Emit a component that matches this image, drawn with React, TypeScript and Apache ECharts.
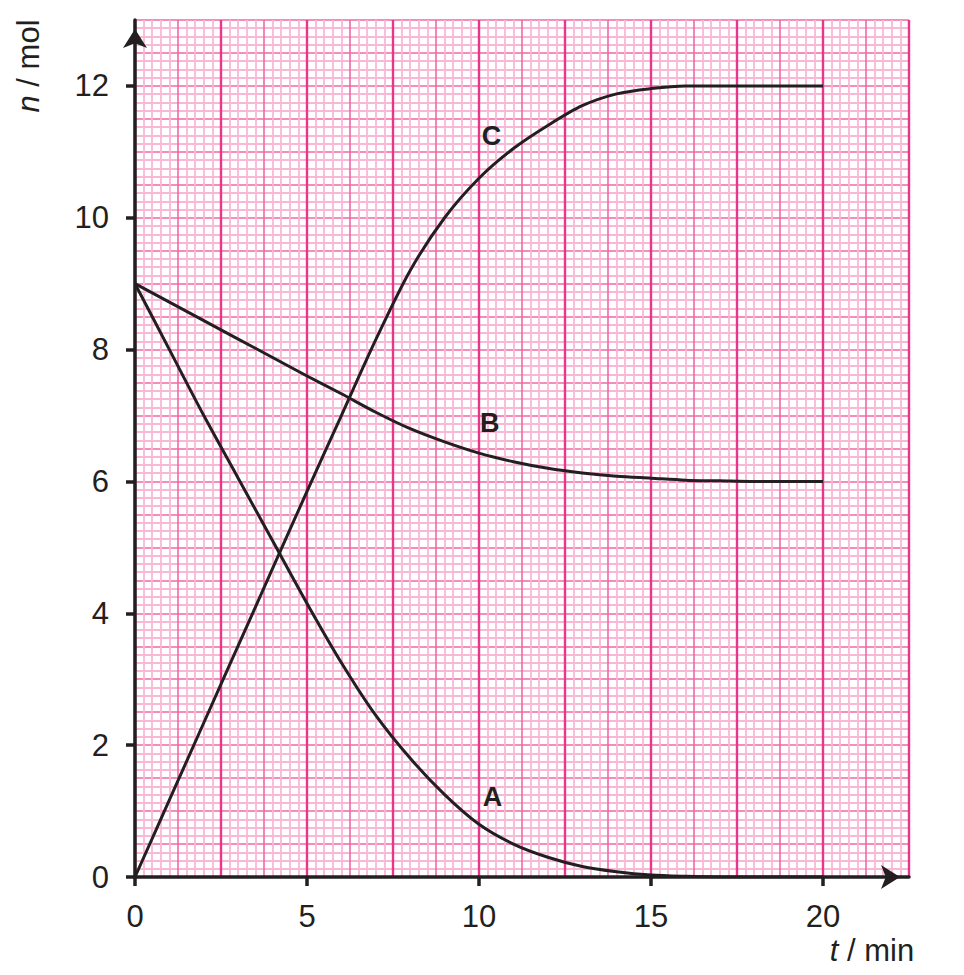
import React, { useEffect, useRef } from "react";
import * as echarts from "echarts";

// time in minutes
const timeMin = [0, 1, 2, 3, 4, 5, 6, 7, 8, 9, 10, 11, 12, 13, 14, 15, 16, 17, 18, 19, 20];
// amount n / mol
const seriesA = [9, 8.0, 7.0, 6.05, 5.1, 4.15, 3.25, 2.45, 1.8, 1.25, 0.8, 0.5, 0.3, 0.16, 0.08, 0.03, 0.01, 0, 0, 0, 0];
const seriesB = [9, 8.72, 8.44, 8.16, 7.88, 7.6, 7.33, 7.05, 6.8, 6.6, 6.43, 6.3, 6.2, 6.13, 6.08, 6.05, 6.02, 6.01, 6.0, 6.0, 6.0];
const seriesC = [0, 1.17, 2.34, 3.51, 4.68, 5.85, 7.0, 8.15, 9.2, 10.0, 10.6, 11.05, 11.4, 11.7, 11.88, 11.96, 12.0, 12.0, 12.0, 12.0, 12.0];

const xTickLabels = [0, 5, 10, 15, 20];
const yTickLabels = [0, 2, 4, 6, 8, 10, 12];

const curveNames = ["A", "B", "C"];
const curveLabelX = [10.39, 10.31, 10.36];
const curveLabelY = [1.21, 6.89, 11.24];

const X_MAX = 22.5;
const Y_MAX = 13;

const INK = "#231f20";
const FONT = "'Liberation Sans', Arial, Helvetica, sans-serif";
const FINE = "#f9b8d6";
const MEDIUM = "#ef67a6";
const THICK = "#e6378b";

function gridAxis(max: number, interval: number, color: string, width: number, minorSplit: number, pos: string) {
  return {
    type: "value",
    min: 0,
    max,
    interval,
    position: pos,
    show: true,
    axisLine: { show: false },
    axisTick: { show: false },
    axisLabel: { show: false },
    minorTick: { show: minorSplit > 0, splitNumber: Math.max(minorSplit, 1), length: 0, lineStyle: { width: 0 } },
    minorSplitLine: { show: minorSplit > 0, lineStyle: { color: FINE, width: 1.8 } },
    splitLine: { show: true, lineStyle: { color, width } },
  };
}

export default function App() {
  const ref = useRef<HTMLDivElement>(null);

  useEffect(() => {
    if (!ref.current) return;
    const chart = echarts.init(ref.current, undefined, { renderer: "svg" });

    const toPairs = (ys: number[]) => timeMin.map((t, i) => [t, ys[i]]);
    const lineSeries = (name: string, ys: number[]) => ({
      type: "line",
      name,
      xAxisIndex: 0,
      yAxisIndex: 0,
      data: toPairs(ys),
      showSymbol: false,
      smooth: 0.3,
      lineStyle: { color: INK, width: 3 },
      z: 4,
    });

    const option: any = {
      animation: false,
      backgroundColor: "#ffffff",
      grid: { left: 135, right: 55, top: 20, bottom: 98, containLabel: false, outerBoundsMode: "none" },
      xAxis: [
        {
          type: "value",
          min: 0,
          max: X_MAX,
          position: "bottom",
          axisLine: {
            show: true,
            onZero: false,
            symbol: ["none", "arrow"],
            symbolSize: [18, 19],
            symbolOffset: [0, -9],
            lineStyle: { color: INK, width: 3.5 },
          },
          axisTick: {
            show: true,
            inside: false,
            length: 9,
            customValues: xTickLabels,
            lineStyle: { color: INK, width: 3.5 },
          },
          axisLabel: {
            customValues: xTickLabels,
            fontSize: 31,
            fontFamily: FONT,
            color: INK,
            margin: 24,
          },
          splitLine: { show: false },
          z: 6,
        },
        gridAxis(X_MAX, 1.25, MEDIUM, 1.6, 5, "bottom"),
        gridAxis(X_MAX, 2.5, THICK, 2.4, 0, "bottom"),
      ],
      yAxis: [
        {
          type: "value",
          min: 0,
          max: Y_MAX,
          position: "left",
          axisLine: {
            show: true,
            onZero: false,
            symbol: ["none", "arrow"],
            symbolSize: [18, 19],
            symbolOffset: [0, -9],
            lineStyle: { color: INK, width: 3.5 },
          },
          axisTick: {
            show: true,
            inside: false,
            length: 9,
            customValues: yTickLabels,
            lineStyle: { color: INK, width: 3.5 },
          },
          axisLabel: {
            customValues: yTickLabels,
            fontSize: 31,
            fontFamily: FONT,
            color: INK,
            margin: 26,
          },
          splitLine: { show: false },
          z: 6,
        },
        gridAxis(Y_MAX, 0.5, MEDIUM, 1.6, 4, "left"),
      ],
      series: [
        lineSeries("A", seriesA),
        lineSeries("B", seriesB),
        lineSeries("C", seriesC),
        {
          type: "scatter",
          xAxisIndex: 0,
          yAxisIndex: 0,
          symbol: "circle",
          symbolSize: 1,
          itemStyle: { color: "#ffffff", opacity: 0 },
          data: curveNames.map((n, i) => ({ name: n, value: [curveLabelX[i], curveLabelY[i]] })),
          label: {
            show: true,
            position: "inside",
            formatter: "{b}",
            fontSize: 27,
            fontWeight: "bold",
            fontFamily: FONT,
            color: INK,
            opacity: 1,
            textBorderWidth: 0,
            textBorderColor: "transparent",
          },
          z: 7,
        },
      ],
      graphic: [
        {
          type: "text",
          x: 28,
          y: 66,
          rotation: Math.PI / 2,
          style: {
            text: "{i|n} / mol",
            rich: { i: { fontStyle: "italic", fontSize: 31, fontFamily: FONT, fill: INK } },
            fontSize: 31,
            fontFamily: FONT,
            fill: INK,
            align: "center",
            verticalAlign: "middle",
          },
        },
        {
          type: "text",
          x: 872,
          y: 950,
          style: {
            text: "{i|t} / min",
            rich: { i: { fontStyle: "italic", fontSize: 31, fontFamily: FONT, fill: INK } },
            fontSize: 31,
            fontFamily: FONT,
            fill: INK,
            align: "center",
            verticalAlign: "middle",
          },
        },
      ],
    };

    chart.setOption(option);
    return () => chart.dispose();
  }, []);

  return (
    <div
      ref={ref}
      style={{ position: "fixed", left: 0, top: 0, width: 964, height: 975, background: "#fff" }}
    />
  );
}
